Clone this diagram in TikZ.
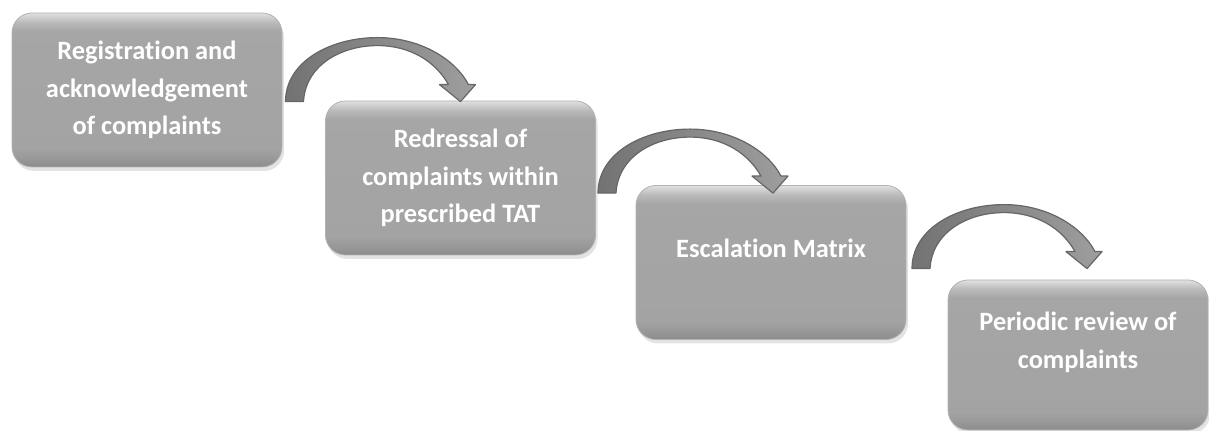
\documentclass[tikz,border=0pt]{standalone}
\usepackage{fontspec}
\setmainfont{Carlito}[Ligatures=NoCommon]
\usetikzlibrary{calc,shadows}

\pgfdeclareverticalshading{boxshade}{100bp}{color(0bp)=(black!45); color(25bp)=(black!45); color(28bp)=(black!40); color(31bp)=(black!36); color(69bp)=(black!35); color(72bp)=(black!27); color(75bp)=(black!12); color(100bp)=(black!12)}

\tikzset{
  stepbox/.style={rounded corners=10pt, shading=boxshade, draw=black!30, line width=0.4pt,
    minimum width=135pt, minimum height=77pt, inner sep=0pt, align=center, text=white,
    font=\fontsize{13.2}{18.75}\selectfont\bfseries,
    drop shadow={opacity=0.22, shadow xshift=1pt, shadow yshift=-2pt}},
  bendarrow/.style={draw=black!60, line width=0.6pt, left color=black!55, right color=black!38, line join=round}
}

% curved arrow, drawn back from its tip
\newcommand\bentarrow[1]{%
  \begin{scope}[shift={(#1)}]
  \path[bendarrow] (-175,0) .. controls (-175,-40) and (-130,-64) .. (-83,-64)
    .. controls (-40,-64) and (-5,-42) .. (8,-17) -- (15,-17) -- (0,0) -- (-21,-17) -- (-12,-17)
    .. controls (-25,-40) and (-50,-56) .. (-83,-56)
    .. controls (-120,-56) and (-155,-36) .. (-157,0) -- cycle;
  \end{scope}}

\begin{document}
\begin{tikzpicture}[x=0.5pt, y=-0.5pt]
\useasboundingbox (0,0) rectangle (1209,431);
\node[stepbox] (reg) at (147,90) {Registration and\\acknowledgement\\of complaints};
\node[stepbox] (redr) at (460.5,178) {Redressal of\\complaints within\\prescribed TAT};
\node[stepbox, text depth=14pt] (esc) at (771,262.5) {Escalation Matrix};
\node[stepbox, minimum width=130pt, minimum height=75pt, text depth=15pt] (rev) at (1078,355) {Periodic review of\\complaints};
\coordinate (tip1) at ($(redr.north)+(0,1)$);
\coordinate (tip2) at ($(esc.north)+(2,8)$);
\coordinate (tip3) at ($(rev.north)+(9,-11)$);
\bentarrow{tip1}
\bentarrow{tip2}
\bentarrow{tip3}
\end{tikzpicture}
\end{document}
